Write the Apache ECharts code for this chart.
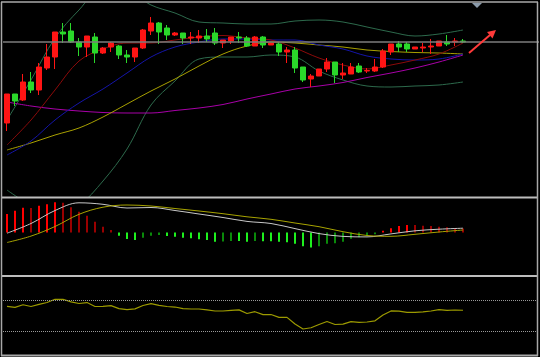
<!DOCTYPE html>
<html><head><meta charset="utf-8">
<script src="https://cdn.jsdelivr.net/npm/echarts@6/dist/echarts.min.js"></script>
<style>html,body{margin:0;padding:0;background:#000}#c{width:540px;height:357px}</style>
</head><body><div id="c"></div>
<script>
// ---- data ----
const slotCount = 67; // 58 trading days + empty space on the right
const openP  = [77,106,100,118,110,132,143,168,169,158,153,163,147,153,154,145,143,152,169,177,172,165,167,162,162,164,167,157,159,163,162,154,163,155,156,148,150,133,121,124,131,138,125,126,134,129,129,133,148,156,156,151,152,153,154,158,158,159];
const closeP = [106,99,118,110,133,143,168,166,158,153,164,147,152,157,145,143,152,170,177,168,165,167,162,163,164,161,157,160,163,162,154,163,155,157,148,150,132,120,124,131,138,125,127,133,128,129.5,133,149,156,153,151,153,153,154,159,156,159,158];
const lowP   = [69,94,99,107,105,130,131,157,157,144,143,137,146,148,141,137,138,151,165,156,160,164,156,156,157,158,155,152,156,157,153,154,152,155,144,137,127,118,113,124,128,117,121,126,127,127,128,132,145,148,148,151,148,146,154,154,154,157];
const highP  = [106,106,126,128,137,156,168,177,177,162,164,167,153,158,155,150,152,171,183,178,175,168,167,168,170,171,172,160,163,168,164,164,164,157,158,153,153,133,126,131,142,138,137,137,137,132,141,151,156,159,158,153,157,161,159,165,162,161];

// sample positions (day index) for the smooth indicator lines
const lineIdx = [0,3,6,9,12,15,18,21,24,27,30,33,36,39,42,45,48,51,54,57];
const maRed    = [55,80,110,139,151,157,157,160,163,164.5,162,160,152,142,135,131,135,140,146,157];
const maBlue   = [45,59,80,97,111,127,143,153,158,161,161,160,160,155,151,144,141,140,141,146];
const maOlive  = [50,57,65,72,83,96,109,121,134,146,154,158,157,155,153,150,148.5,147.5,147,146];
const maPurple = [98,94,91,89,87.5,87,87,89.5,92,95.5,101,106,111,114,117.5,122.5,127,132,138,145];
const bollUp   = [80,120,162,190,212,210,195,187,178,177,176,176,179,180,178,173,168,164,166,170];
const bollDn   = [10,-5,-12,-5,19,51,95,119,141,143,143,145,143,129,120,114,113,114,115,118];

const macdHist = [18.5,21.8,24.8,24.5,26.8,28.2,30.2,29.8,25.2,20.8,16.8,10.8,5.8,2.5,-3.2,-6.5,-7.5,-5.2,-3.2,-2.5,-3.5,-4.2,-5.2,-5.8,-6.8,-7.5,-9.2,-9.0,-8.5,-8.6,-9.2,-8.5,-8.7,-8.7,-9.2,-9.7,-11.3,-13.8,-15,-13.8,-11.3,-10.8,-9.2,-6.3,-4.8,-2.8,-1.8,1.8,4.2,6.5,7.5,7.4,6.8,6.5,5.8,5.2,4.2,4.1];
const macdDif  = [-0.7,9,22,29.7,28.2,24.5,25,22,18.5,15,11.1,9,3.9,-1.1,-3.9,-4.4,-1.4,1.7,3.3,4.3];
const macdDea  = [-10,-3.6,6,18.2,25.3,27.5,26.5,24,21.5,18.8,15.7,13.2,9.5,5.8,0.8,-3,-3.8,-1.8,0.5,2.5];

const rsi = [62.4,61.0,64.4,62.2,65.0,67.3,71.4,71.5,68.2,66.0,67.2,62.2,62.4,63.3,59.4,58.1,59.2,63.5,65.8,63.6,62.2,61.5,59.4,59.0,59.0,57.9,56.4,56.4,57.3,57.9,53.2,55.5,51.8,51.9,48.3,48.2,39.7,33.3,34.9,39.1,42.9,39.1,39.5,42.8,41.8,42.3,43.8,51.3,56.5,56.2,54.7,54.7,55.3,56.4,58.1,57.3,57.7,57.4];
const rsiLevels = [70, 30];

// ---- build ----
const cats = Array.from({length: slotCount}, (_, i) => 'D' + (i + 1));
const kData = openP.map((o, i) => [o, closeP[i], lowP[i], highP[i]]);
const pts = arr => lineIdx.map((k, i) => [k, arr[i]]);
const histData = macdHist.map((v, i) => {
  const prev = i > 0 ? macdHist[i - 1] : 0;
  let c;
  if (v >= 0) c = v >= prev ? '#ff0000' : '#9a0000';
  else c = v <= prev ? '#1ef01e' : '#0a8a0a';
  return {value: v, itemStyle: {color: c}};
});
const lastClose = closeP[closeP.length - 1];

function ln(name, data, color, xi, yi, w) {
  return {name, type: 'line', xAxisIndex: xi, yAxisIndex: yi, data, smooth: 0.35,
    symbol: 'none', lineStyle: {color, width: w || 1}, silent: true, z: 3};
}

const chart = echarts.init(document.getElementById('c'), null, {renderer: 'canvas'});
const hidden = {show: false};
const frame = '#a8a8a8';
chart.setOption({
  backgroundColor: '#000000',
  animation: false,
  grid: [
    {left: 3, width: 536, top: 3, height: 194},
    {left: 3, width: 536, top: 199, height: 76},
    {left: 3, width: 536, top: 277, height: 78}
  ],
  xAxis: [0, 1, 2].map(g => ({type: 'category', gridIndex: g, data: cats, boundaryGap: true,
    axisLine: hidden, axisTick: hidden, axisLabel: hidden, splitLine: hidden})),
  yAxis: [
    {gridIndex: 0, min: 3, max: 197, show: false},
    {gridIndex: 1, min: -42.5, max: 33.5, show: false},
    {gridIndex: 2, min: 0, max: 100, show: false}
  ],
  series: [
    ln('BOLL-UP', pts(bollUp), '#2d6a4c', 0, 0),
    ln('BOLL-DN', pts(bollDn), '#2d6a4c', 0, 0),
    ln('MA60', pts(maPurple), '#a800a8', 0, 0),
    ln('MA30', pts(maOlive), '#a8a000', 0, 0),
    ln('MA20', pts(maBlue), '#1414a8', 0, 0),
    ln('MA10', pts(maRed), '#8c0a0a', 0, 0),
    {
      type: 'candlestick', xAxisIndex: 0, yAxisIndex: 0, data: kData, barWidth: 5, z: 4,
      itemStyle: {color: '#ff1414', color0: '#2ad82a', borderColor: '#ff1414', borderColor0: '#2ad82a', borderWidth: 1},
      markLine: {silent: true, symbol: 'none', label: {show: false},
        lineStyle: {color: '#7c7c7c', width: 1.5, type: 'solid'},
        data: [{yAxis: lastClose}]}
    },
    {type: 'bar', xAxisIndex: 1, yAxisIndex: 1, data: histData, barWidth: 2, silent: true},
    ln('DIF', pts(macdDif), '#c8c8c8', 1, 1),
    ln('DEA', pts(macdDea), '#a8a400', 1, 1),
    {type: 'line', xAxisIndex: 2, yAxisIndex: 2, data: rsi, symbol: 'none', silent: true,
      lineStyle: {color: '#9c9a00', width: 1.2},
      markLine: {silent: true, symbol: 'none', label: {show: false},
        lineStyle: {color: '#9a9a9a', width: 1, type: 'dotted'},
        data: rsiLevels.map(v => ({yAxis: v}))}}
  ],
  graphic: [
    {type: 'line', shape: {x1: 1, y1: 2, x2: 538, y2: 2}, style: {stroke: frame, lineWidth: 1.5}, z: 100},
    {type: 'line', shape: {x1: 1, y1: 197.5, x2: 538, y2: 197.5}, style: {stroke: '#bdbdbd', lineWidth: 2}, z: 100},
    {type: 'line', shape: {x1: 1, y1: 276, x2: 538, y2: 276}, style: {stroke: '#bdbdbd', lineWidth: 2}, z: 100},
    {type: 'line', shape: {x1: 1, y1: 355.5, x2: 538, y2: 355.5}, style: {stroke: frame, lineWidth: 2}, z: 100},
    {type: 'line', shape: {x1: 1.5, y1: 2, x2: 1.5, y2: 356}, style: {stroke: frame, lineWidth: 1.5}, z: 100},
    {type: 'line', shape: {x1: 537.5, y1: 2, x2: 537.5, y2: 356}, style: {stroke: frame, lineWidth: 1.5}, z: 100},
    {type: 'polygon', shape: {points: [[472, 3], [482, 3], [477, 8]]}, style: {fill: '#8a9aaa'}, z: 101},
    {type: 'line', shape: {x1: 469, y1: 53, x2: 490, y2: 35}, style: {stroke: '#ff3a3a', lineWidth: 2}, z: 101},
    {type: 'polygon', shape: {points: [[496, 30], [487, 32], [492.5, 38.5]]}, style: {fill: '#ff3a3a'}, z: 101}
  ]
});
</script>
</body></html>
